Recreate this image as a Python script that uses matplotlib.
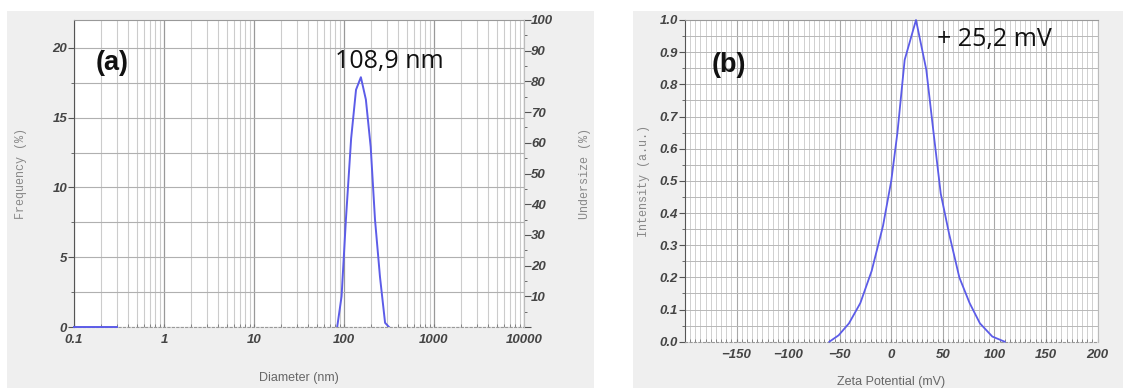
import matplotlib
matplotlib.use("Agg")
import matplotlib.pyplot as plt
from matplotlib.patches import Rectangle
from matplotlib.ticker import MultipleLocator, LogLocator, FixedLocator, NullFormatter, FuncFormatter

# panel (a): particle size distribution
diam_tail = [0.1, 0.3]
freq_tail = [0.0, 0.0]
diam_nm = [84, 94, 105, 120, 136, 154, 175, 198, 221, 251, 286, 316]
freq_pct = [0.0, 2.2, 7.7, 13.5, 17.0, 17.9, 16.3, 12.9, 7.7, 3.6, 0.3, 0.0]
diam_ticks = [0.1, 1, 10, 100, 1000, 10000]
diam_labels = ["0.1", "1", "10", "100", "1000", "10000"]

# panel (b): zeta potential distribution
zeta_mv = [-60, -51, -41, -30, -19, -8, 0, 6, 13, 24, 34, 41, 48, 56, 66, 76, 86, 98, 110]
intensity = [0.0, 0.02, 0.057, 0.12, 0.22, 0.36, 0.50, 0.65, 0.876, 1.0, 0.845,
             0.65, 0.46, 0.337, 0.20, 0.12, 0.057, 0.016, 0.0]
zeta_ticks = [-150, -100, -50, 0, 50, 100, 150, 200]

LINE = "#5c5ce8"
TICK_FONT = dict(family="Liberation Sans", weight="bold", style="italic", size=9.5)
W, H = 1123, 388


def style_ticklabels(ax):
    for lab in ax.get_xticklabels() + ax.get_yticklabels():
        lab.set_fontproperties(matplotlib.font_manager.FontProperties(**TICK_FONT))
        lab.set_color("#444444")


def common_spines(ax):
    ax.spines["left"].set_color("#555555")
    ax.spines["top"].set_color("#999999")
    ax.spines["right"].set_color("#bbbbbb")
    ax.spines["bottom"].set_color("#999999")
    ax.spines["bottom"].set_linestyle((0, (2, 2)))
    ax.tick_params(axis="y", which="major", direction="out", length=4, color="#555555", pad=1)
    ax.tick_params(axis="y", which="minor", direction="out", length=2, color="#555555")
    ax.tick_params(axis="x", which="both", direction="in", length=2.5, color="#777777", pad=5)


def draw_size(fig):
    ax = fig.add_axes([74 / W, 1 - 327 / H, 450 / W, 307 / H])
    ax.set_facecolor("white")
    ax.set_xscale("log")
    ax.set_xlim(0.1, 10000)
    ax.set_ylim(0, 22)
    ax.xaxis.set_major_locator(FixedLocator(diam_ticks))
    ax.set_xticklabels(diam_labels)
    ax.xaxis.set_minor_locator(LogLocator(base=10, subs=range(2, 10), numticks=20))
    ax.xaxis.set_minor_formatter(NullFormatter())
    ax.yaxis.set_major_locator(MultipleLocator(5))
    ax.yaxis.set_minor_locator(MultipleLocator(2.5))
    ax.grid(True, axis="x", which="major", color="#999999", lw=0.9)
    ax.grid(True, axis="x", which="minor", color="#cccccc", lw=0.8)
    ax.grid(True, axis="y", which="both", color="#b0b0b0", lw=0.8)
    ax.set_axisbelow(True)
    common_spines(ax)

    ax.plot(diam_tail, freq_tail, color=LINE, lw=1.4, clip_on=False, zorder=3)
    ax.plot(diam_nm, freq_pct, color=LINE, lw=1.4, zorder=3)

    ax.set_ylabel("Frequency (%)", family="Liberation Mono", size=8.5, color="#888888", labelpad=18)
    ax.set_xlabel("Diameter (nm)", family="Liberation Sans", size=9, color="#666666", labelpad=19)
    style_ticklabels(ax)

    right = ax.twinx()
    right.set_ylim(0, 100)
    right.yaxis.set_major_locator(MultipleLocator(10))
    right.yaxis.set_minor_locator(MultipleLocator(5))
    right.yaxis.set_major_formatter(FuncFormatter(lambda v, p: "" if v == 0 else f"{v:.0f}"))
    right.tick_params(axis="y", which="major", direction="out", length=5, color="#555555", pad=0)
    right.tick_params(axis="y", which="minor", direction="out", length=2, color="#555555")
    for side in ("left", "top", "bottom"):
        right.spines[side].set_visible(False)
    right.spines["right"].set_color("#bbbbbb")
    right.set_ylabel("Undersize (%)", family="Liberation Mono", size=8.5, color="#888888", labelpad=19)
    style_ticklabels(right)

    ax.text(0.047, 0.86, "(a)", transform=ax.transAxes, fontsize=19.5, fontweight="bold",
            family="Liberation Sans", ha="left", va="center", color="#111111")
    ax.text(0.70, 0.865, "108,9 nm", transform=ax.transAxes, fontsize=18,
            family="Open Sans", ha="center", va="center", color="#111111")


def draw_zeta(fig):
    ax = fig.add_axes([685 / W, 1 - 341.7 / H, 412.5 / W, 321.7 / H])
    ax.set_facecolor("white")
    ax.set_xlim(-200, 200)
    ax.set_ylim(0, 1.0)
    ax.xaxis.set_major_locator(FixedLocator(zeta_ticks))
    ax.xaxis.set_minor_locator(MultipleLocator(5))
    ax.yaxis.set_major_locator(MultipleLocator(0.1))
    ax.yaxis.set_minor_locator(MultipleLocator(0.05))
    ax.yaxis.set_major_formatter(FuncFormatter(lambda v, p: f"{v:.1f}"))
    ax.grid(True, axis="x", which="major", color="#a8a8a8", lw=0.8)
    ax.grid(True, axis="x", which="minor", color="#d0d0d0", lw=0.7)
    ax.grid(True, axis="y", which="both", color="#b8b8b8", lw=0.7)
    ax.set_axisbelow(True)
    common_spines(ax)

    ax.plot(zeta_mv, intensity, color=LINE, lw=1.3, zorder=3, clip_on=False)

    ax.set_ylabel("Intensity (a.u.)", family="Liberation Mono", size=8.5, color="#888888", labelpad=7)
    ax.set_xlabel("Zeta Potential (mV)", family="Liberation Sans", size=9, color="#666666", labelpad=11)
    style_ticklabels(ax)

    ax.text(0.065, 0.86, "(b)", transform=ax.transAxes, fontsize=19.5, fontweight="bold",
            family="Liberation Sans", ha="left", va="center", color="#111111")
    ax.text(0.61, 0.94, "+ 25,2 mV", transform=ax.transAxes, fontsize=18,
            family="Open Sans", ha="left", va="center", color="#111111")


def main() -> None:
    fig = plt.figure(figsize=(W / 100, H / 100), dpi=100)
    fig.patch.set_facecolor("white")
    fig.patches.append(Rectangle((7 / W, 0), 587 / W, 377 / H, transform=fig.transFigure,
                                 facecolor="#efefef", edgecolor="none", zorder=-10))
    fig.patches.append(Rectangle((633 / W, 0), 490 / W, 377 / H, transform=fig.transFigure,
                                 facecolor="#efefef", edgecolor="none", zorder=-10))
    draw_size(fig)
    draw_zeta(fig)
    fig.savefig("out.png", dpi=100, facecolor=fig.get_facecolor())
    plt.close(fig)


if __name__ == "__main__":
    main()
